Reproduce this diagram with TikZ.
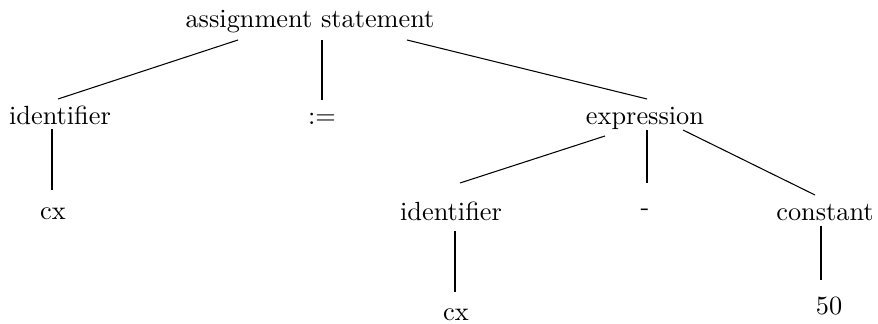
\documentclass[tikz,border=0pt]{standalone}
\usetikzlibrary{calc}
\begin{document}
\begin{tikzpicture}[x=0.38pt,y=-0.38pt,
  sym/.style={anchor=base,inner sep=0pt},
  branch/.style={line width=0.4pt},
  stem/.style={line width=1.05pt}]
\useasboundingbox (0,0) rectangle (878,324);
% tree labels, placed by baseline
\node[sym] (top)    at (310,28)  {assignment statement};
\node[sym] (id1)    at (60,125)  {identifier};
\node[sym] (assign) at (322,125) {:=};
\node[sym] (expr)   at (645,125) {expression};
\node[sym] (cx1)    at (53,220)  {cx};
\node[sym] (id2)    at (451,221) {identifier};
\node[sym] (minus)  at (645,216) {-};
\node[sym] (const)  at (825,221) {constant};
\node[sym] (cx2)    at (456,321) {cx};
\node[sym] (fifty)  at (829,315) {50};
% branches
\draw[branch] ($(top.base)+(-72,12)$) -- ($(id1.base)+(-2,-26)$);
\draw[stem]   ($(top.base)+(12,12)$) -- ($(assign.base)+(0,-25)$);
\draw[branch] ($(top.base)+(97,12)$) -- ($(expr.base)+(2,-26)$);
\draw[stem]   ($(id1.base)+(-8,4)$) -- ($(cx1.base)+(-1,-30)$);
\draw[branch] ($(expr.base)+(-40,11)$) -- ($(id2.base)+(9,-38)$);
\draw[stem]   ($(expr.base)+(2,5)$) -- ($(minus.base)+(2,-33)$);
\draw[branch] ($(expr.base)+(38,5)$) -- ($(const.base)+(-10,-26)$);
\draw[stem]   ($(id2.base)+(4,10)$) -- ($(cx2.base)+(-1,-29)$);
\draw[stem]   ($(const.base)+(-4,5)$) -- ($(fifty.base)+(-8,-35)$);
\end{tikzpicture}
\end{document}
